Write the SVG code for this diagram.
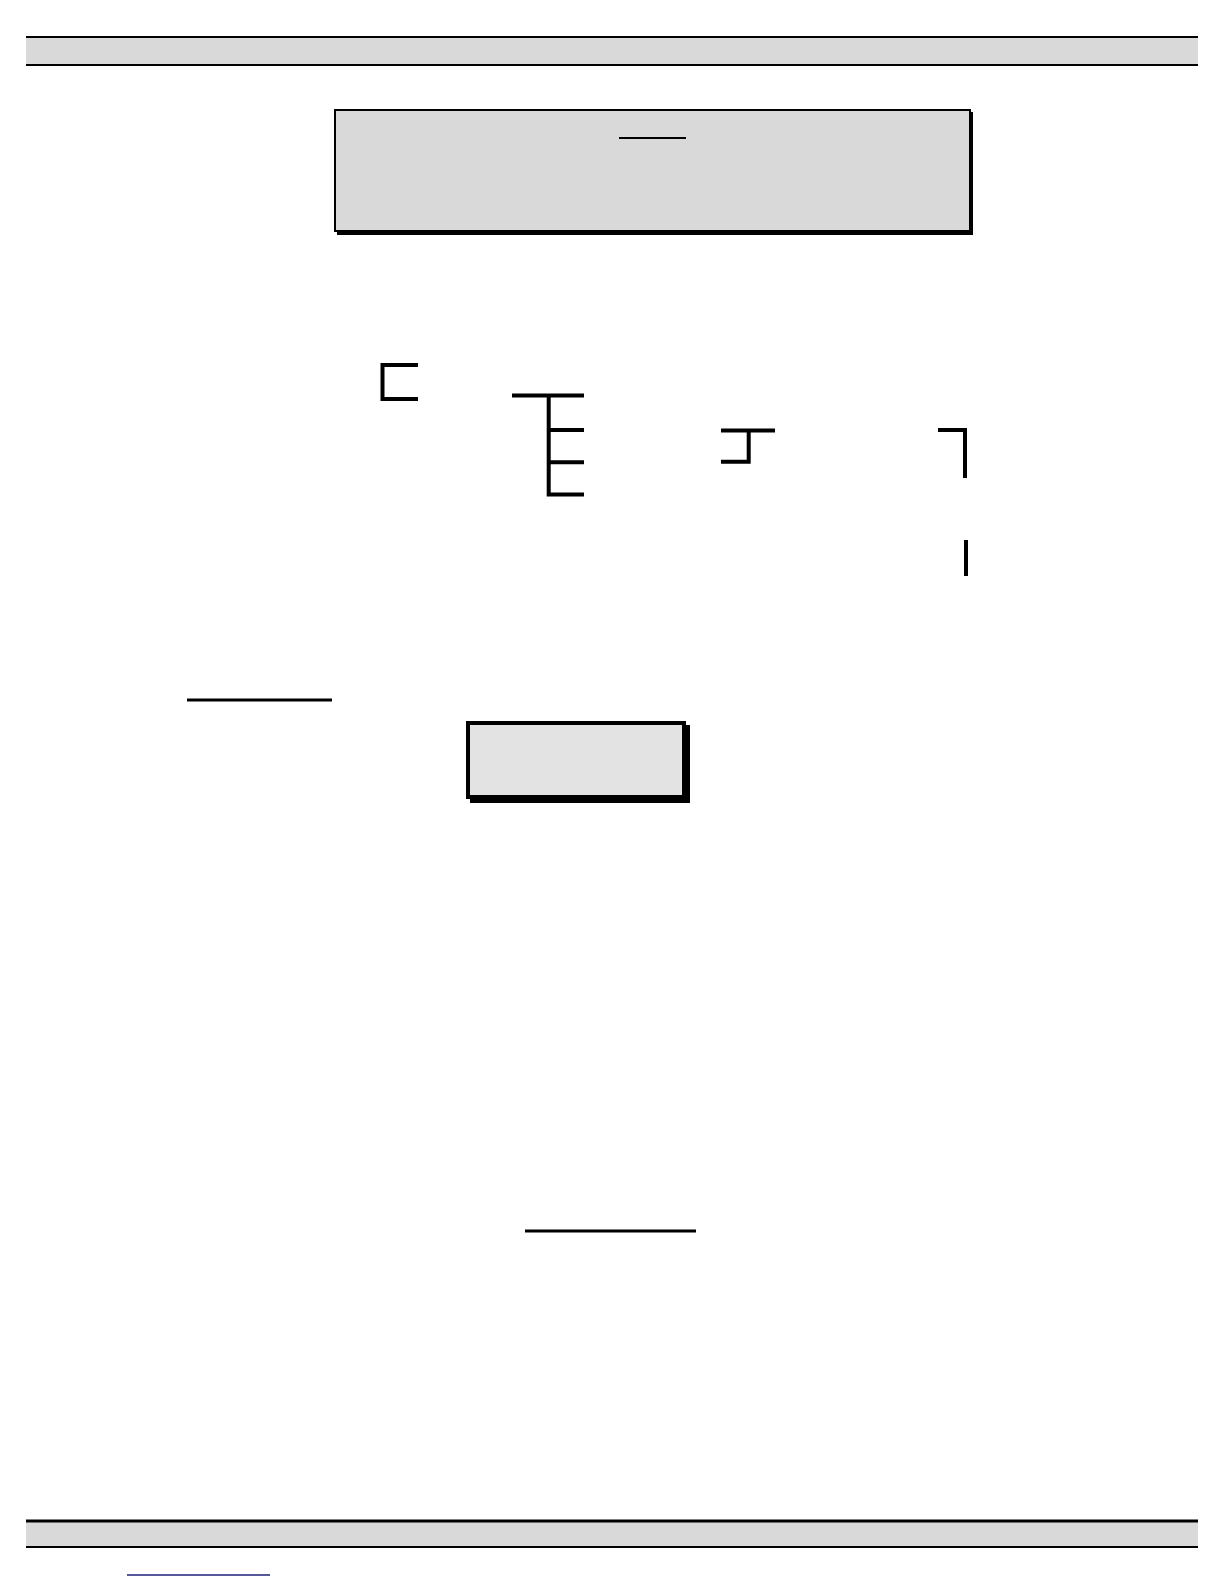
<svg xmlns="http://www.w3.org/2000/svg" width="1224" height="1584" viewBox="0 0 1224 1584">
<style>
.bar{fill:#d9d9d9}
.k{stroke:#000;fill:none;stroke-linecap:butt}
.w4{stroke-width:4}
.w3{stroke-width:3}
.w2{stroke-width:2}
</style>
<rect width="1224" height="1584" fill="#fff"/>
<g id="header">
<rect class="bar" x="26" y="37" width="1172" height="28"/>
<line class="k w2" x1="26" y1="37" x2="1198" y2="37"/>
<line class="k w2" x1="26" y1="65" x2="1198" y2="65"/>
</g>
<g id="title-box">
<rect x="337" y="112" width="636" height="123" fill="#000"/>
<rect x="335" y="110" width="635" height="121" fill="#d9d9d9" stroke="#000" stroke-width="2"/>
<line class="k w2" x1="619" y1="138" x2="686" y2="138"/>
</g>
<g id="connectors">
<path class="k w4" d="M418,365 H382.5 V399 H418"/>
<path class="k w4" d="M512,395.5 H584 M548.7,395.5 V494.5 H584 M548.7,430 H584 M548.7,462.3 H584"/>
<path class="k w4" d="M721,430.5 H775 M748.7,430.5 V461.7 H721"/>
<path class="k w4" d="M938,430 H965 V478"/>
<line class="k w4" x1="966" y1="540" x2="966" y2="576"/>
</g>
<g id="label-line">
<line class="k w3" x1="187" y1="700" x2="332" y2="700"/>
</g>
<g id="node-box">
<rect x="470" y="725" width="220" height="78" fill="#000"/>
<rect x="468" y="723" width="216" height="74" fill="#e3e3e3" stroke="#000" stroke-width="4"/>
</g>
<g id="label-line-2">
<line class="k w3" x1="525" y1="1231" x2="696" y2="1231"/>
</g>
<g id="footer">
<rect class="bar" x="26" y="1521" width="1172" height="26"/>
<line class="k w3" x1="26" y1="1521" x2="1198" y2="1521"/>
<line class="k w2" x1="26" y1="1547" x2="1198" y2="1547"/>
<line x1="127" y1="1575" x2="270" y2="1575" stroke="#1f1f7a" stroke-width="1.5"/>
</g>
</svg>
